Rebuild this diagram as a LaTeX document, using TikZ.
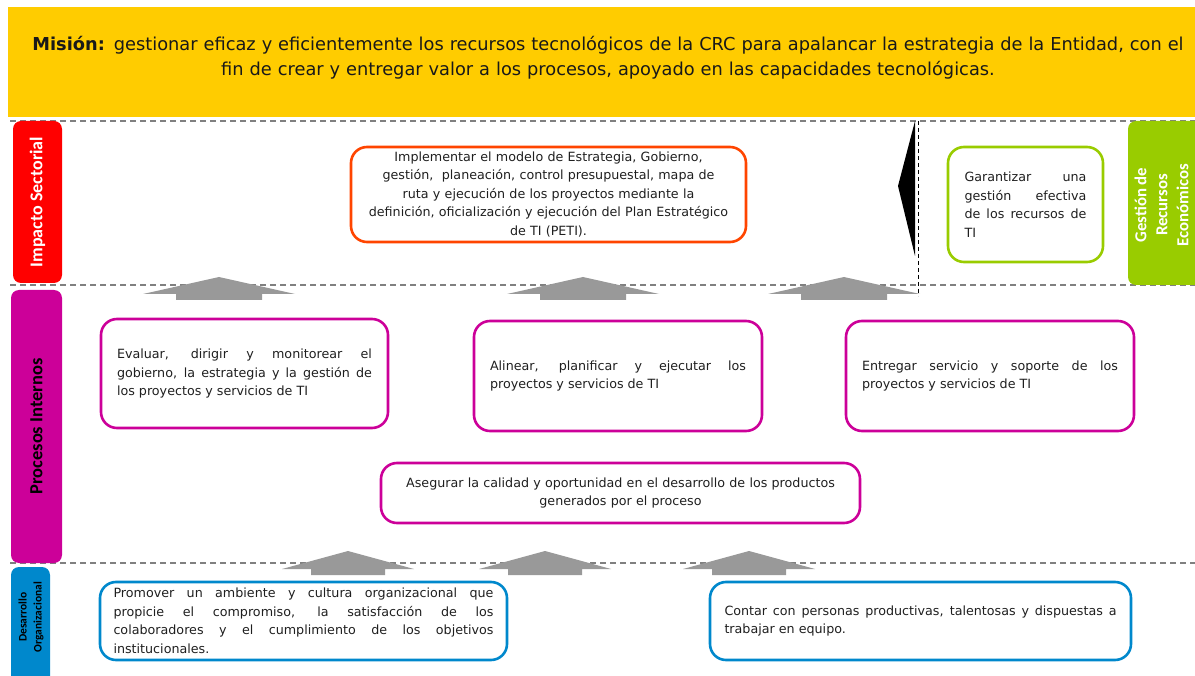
\documentclass[tikz,border=0pt]{standalone}
\usepackage{fontspec}
\setmainfont{DejaVu Sans}
\newfontfamily\labelfont{Carlito}
\usetikzlibrary{calc}
\definecolor{misionyellow}{HTML}{FFCC00}
\definecolor{impactred}{HTML}{FF0000}
\definecolor{procmagenta}{HTML}{CC0099}
\definecolor{desablue}{HTML}{0088CC}
\definecolor{gestgreen}{HTML}{99CC00}
\definecolor{estratorange}{HTML}{FF4500}
\definecolor{liftgray}{HTML}{999999}
\definecolor{rulegray}{HTML}{808080}

\newcommand{\goalfont}{\fontsize{12.7}{18.5}\selectfont}
\newcommand{\misionfont}{\fontsize{17.8}{25}\selectfont}

\begin{document}
\begin{tikzpicture}[x=1pt, y=-1pt,
  goalbox/.style={draw, line width=2.6pt, rounded corners=16pt, align=justify,
    font=\goalfont, text=black!88, inner xsep=0pt, inner ysep=4pt},
  sidelabel/.style={rounded corners=8pt, rotate=90, align=center, inner sep=0pt},
  layerrule/.style={rulegray, line width=1.4pt, dash pattern=on 6pt off 4pt},
  pics/liftarrow/.style n args={3}{code={
      \fill[liftgray] (-#1,0) -- (0,-#3) -- (#1,0) -- (#2,0) -- (#2,6)
        -- (-#2,6) -- (-#2,0) -- cycle;
  }}]

\useasboundingbox (0,0) rectangle (1195,676);

% --- mision banner -------------------------------------------------
\node[fill=misionyellow, minimum width=1197pt, minimum height=110pt, inner sep=0pt]
  (banner) at (606.5,62) {};
\node[font=\misionfont, text=black!90, align=center, text width=1185pt]
  (mision) at (608,57.5)
  {\textbf{Misión:} gestionar eficaz y eficientemente los recursos tecnológicos de la CRC para apalancar la estrategia de la Entidad, con el\\
   fin de crear y entregar valor a los procesos, apoyado en las capacidades tecnológicas.};

% --- layer separators ----------------------------------------------
\draw[layerrule] (10,121) -- (1195,121);
\draw[layerrule] (10,285) -- (1195,285);
\draw[layerrule] (10,563) -- (1195,563);
\draw[black, line width=1pt, dash pattern=on 4pt off 3pt] (918,121) -- (918,296);

% === side labels ===================================================
\node[sidelabel, fill=impactred, text=white, minimum width=162pt, minimum height=49pt,
  font=\labelfont\bfseries\fontsize{18}{21}\selectfont]
  (impacto) at (37.5,202) {Impacto Sectorial};
\node[sidelabel, fill=procmagenta, text=black, minimum width=273pt, minimum height=51pt,
  font=\labelfont\bfseries\fontsize{18.5}{21}\selectfont]
  (procesos) at (36.5,426.5) {Procesos Internos};
% these two run off the page edge, so their texts sit on their own
\node[sidelabel, fill=desablue, minimum width=123pt, minimum height=39pt]
  (desarrollo) at (30.5,628.5) {};
\node[rotate=90, align=center, inner sep=0pt, text=black,
  font=\labelfont\bfseries\fontsize{11.5}{15}\selectfont]
  (desarrollotxt) at (31,617) {Desarrollo\\ Organizacional};
\node[sidelabel, fill=gestgreen, minimum width=164pt, minimum height=77pt]
  (gestion) at (1166.5,203) {};
\node[rotate=90, align=center, inner sep=0pt, text=white,
  font=\labelfont\bfseries\fontsize{16.8}{21}\selectfont]
  (gestiontxt) at (1161.5,205) {Gestión de\\ Recursos\\ Económicos};

% === impacto sectorial =============================================
\node[goalbox, draw=estratorange, align=center, text width=385pt,
  minimum width=395pt, minimum height=95pt]
  (estrategia) at (548.5,194.5)
  {Implementar el modelo de Estrategia, Gobierno,\\
   gestión,\ \ planeación, control presupuestal, mapa de\\
   ruta y ejecución de los proyectos mediante la\\
   definición, oficialización y ejecución del Plan Estratégico\\
   de TI (PETI).};
\node[goalbox, draw=gestgreen, text width=122pt, minimum width=155pt, minimum height=115pt]
  (recursos) at (1025.5,204.5)
  {Garantizar una\linebreak gestión efectiva\linebreak de los recursos de\linebreak TI};

% === procesos internos =============================================
\node[goalbox, draw=procmagenta, text width=255pt, minimum width=287pt, minimum height=109pt]
  (evaluar) at (244.5,373.5)
  {Evaluar, dirigir y monitorear el\linebreak gobierno, la estrategia y la gestión de\linebreak los proyectos y servicios de TI};
\node[goalbox, draw=procmagenta, text width=256pt, minimum width=288pt, minimum height=110pt]
  (alinear) at (618,376)
  {Alinear, planificar y ejecutar los\linebreak proyectos y servicios de TI};
\node[goalbox, draw=procmagenta, text width=256pt, minimum width=288pt, minimum height=110pt]
  (entregar) at (990,376)
  {Entregar servicio y soporte de los\linebreak proyectos y servicios de TI};
\node[goalbox, draw=procmagenta, align=center, text width=460pt, minimum width=479pt, minimum height=60pt]
  (calidad) at (620.5,493)
  {Asegurar la calidad y oportunidad en el desarrollo de los productos\\ generados por el proceso};

% === desarrollo organizacional =====================================
\node[goalbox, draw=desablue, text width=380pt, minimum width=407pt, minimum height=78pt]
  (ambiente) at (303.5,621)
  {Promover un ambiente y cultura organizacional que\linebreak propicie el compromiso, la satisfacción de los\linebreak colaboradores y el cumplimiento de los objetivos\linebreak institucionales.};
\node[goalbox, draw=desablue, text width=392pt, minimum width=421pt, minimum height=78pt]
  (personas) at (920.5,621)
  {Contar con personas productivas, talentosas y dispuestas a\linebreak trabajar en equipo.};

% --- lift arrows between layers ------------------------------------
\foreach \cx in {219,583,844}
  \pic at (\cx,294) {liftarrow={76}{43}{17}};
\foreach \cx in {348,545,749}
  \pic at (\cx,569) {liftarrow={66}{37}{18}};

% --- wedge at the right of impacto sectorial -----------------------
\fill[black] (915,121) -- (898,186) -- (915,256) -- cycle;

\end{tikzpicture}
\end{document}
